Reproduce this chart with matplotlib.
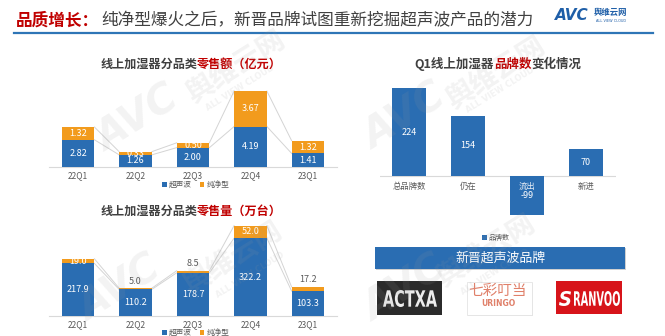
import matplotlib
matplotlib.use('Agg')
import numpy as np
import matplotlib.pyplot as plt
from matplotlib.patches import Rectangle, PathPatch
from matplotlib.textpath import TextPath
from matplotlib.font_manager import FontProperties
from matplotlib.transforms import Affine2D

plt.rcParams['font.family'] = ['Noto Sans CJK SC', 'DejaVu Sans']

# data
quarters = ['22Q1', '22Q2', '22Q3', '22Q4', '23Q1']
sales_ultra = [2.82, 1.26, 2.00, 4.19, 1.41]   # 亿元
sales_pure = [1.32, 0.33, 0.50, 3.67, 1.32]
vol_ultra = [217.9, 110.2, 178.7, 322.2, 103.3]  # 万台
vol_pure = [19.0, 5.0, 8.5, 52.0, 17.2]
brand_cats = ['总品牌数', '仍在', '流出', '新进']
brand_vals = [224, 154, -99, 70]
series_names = ['超声波', '纯净型']

W, H = 665, 336
BLUE = '#2a6db2'
ORANGE = '#f29b1d'
RED = '#c00000'
DARK = '#404040'
GREY = '#595959'

fig = plt.figure(figsize=(W / 100, H / 100), dpi=100)
fig.patch.set_facecolor('white')


def fx(x):
    return x / W


def fy(y):
    return 1 - y / H


def add_ax(x0, x1, ytop, ybot):
    return fig.add_axes([fx(x0), fy(ybot), (x1 - x0) / W, (ybot - ytop) / H])


def rich(x, y, parts, size, weight='normal', ha='center'):
    r = fig.canvas.get_renderer()
    ts = [fig.text(0, 0, s, fontsize=size, color=c, weight=weight, va='center') for s, c in parts]
    ws = [t.get_window_extent(r).width for t in ts]
    x0 = x - sum(ws) / 2 if ha == 'center' else x
    for t, w in zip(ts, ws):
        t.set_position((fx(x0), fy(y)))
        x0 += w


def fit_text(s, x0, x1, ytop, ybot, color, family='DejaVu Sans', weight='bold', style='normal'):
    tp = TextPath((0, 0), s, size=10, prop=FontProperties(family=family, weight=weight, style=style))
    bb = tp.get_extents()
    sx = (x1 - x0) / bb.width
    sy = (ybot - ytop) / bb.height
    tr = (Affine2D().translate(-bb.x0, -bb.y0).scale(sx, sy)
          .translate(x0, H - ybot).scale(1 / W, 1 / H) + fig.transFigure)
    fig.add_artist(PathPatch(tp, transform=tr, facecolor=color, edgecolor='none', zorder=6))


def box(x0, x1, ytop, ybot, fc, ec='none', z=4):
    fig.add_artist(Rectangle((fx(x0), fy(ybot)), (x1 - x0) / W, (ybot - ytop) / H,
                             transform=fig.transFigure, facecolor=fc, edgecolor=ec, lw=0.6, zorder=z))


# header
rich(16, 21, [('品质增长：', RED)], 12, weight='bold', ha='left')
rich(101, 21, [('纯净型爆火之后，新晋品牌试图重新挖掘超声波产品的潜力', DARK)], 12, ha='left')
fig.add_artist(plt.Line2D([fx(14), fx(653)], [fy(33), fy(33)], color='#2e75b6', lw=1.6,
                          transform=fig.transFigure))
fig.text(fx(572), fy(16), 'AVC', fontsize=11, color='#1f5fa8', weight='bold', style='italic',
         family='DejaVu Sans', ha='center', va='center')
fig.text(fx(611), fy(13), '舆维云网', fontsize=6, color='#1f5fa8', weight='bold',
         ha='center', va='center')
fig.text(fx(611), fy(21), 'ALL VIEW CLOUD', fontsize=2.5, color='#1f5fa8',
         family='DejaVu Sans', ha='center', va='center')


def stacked(ax, ultra, pure, top, fmt, inside_min):
    x = np.arange(len(quarters))
    w = 0.57
    b1 = ax.bar(x, ultra, w, color=BLUE, zorder=3)
    b2 = ax.bar(x, pure, w, bottom=ultra, color=ORANGE, zorder=3)
    tot = np.add(ultra, pure)
    for i in range(len(x) - 1):
        ax.plot([i + w / 2, i + 1 - w / 2], [ultra[i], ultra[i + 1]], color='#d4d4d4', lw=0.7, zorder=1)
        ax.plot([i + w / 2, i + 1 - w / 2], [tot[i], tot[i + 1]], color='#d4d4d4', lw=0.7, zorder=1)
    for i in range(len(x)):
        ax.text(i, ultra[i] / 2, fmt % ultra[i], ha='center', va='center', color='white',
                fontsize=6.5, zorder=5)
        if pure[i] >= inside_min:
            ax.text(i, ultra[i] + pure[i] / 2, fmt % pure[i], ha='center', va='center',
                    color='white', fontsize=6.5, zorder=5)
        else:
            ax.annotate(fmt % pure[i], (i, tot[i]), xytext=(0, 5), textcoords='offset points',
                        ha='center', va='center', color=GREY, fontsize=6.5)
    ax.set_xlim(-0.5, len(x) - 0.5)
    ax.set_ylim(0, top)
    for s in ['top', 'right', 'left']:
        ax.spines[s].set_visible(False)
    ax.spines['bottom'].set_color('#d9d9d9')
    ax.spines['bottom'].set_linewidth(0.8)
    ax.set_yticks([])
    ax.set_xticks(x, quarters)
    ax.tick_params(length=0, pad=3, labelsize=6, labelcolor=GREY)
    ax.set_facecolor('none')
    return b1, b2


# top-left: retail value
ax1 = add_ax(49.25, 336.75, 85, 167)
h1 = stacked(ax1, sales_ultra, sales_pure, 82 / 9.66, '%.2f', 0)
rich(191, 64, [('线上加湿器分品类', DARK), ('零售额（亿元）', RED)], 8.7, weight='bold')
fig.legend(h1, series_names, loc='center', bbox_to_anchor=(fx(196), fy(185)), ncol=2,
           frameon=False, fontsize=5.5, handlelength=0.6, handleheight=0.6,
           handletextpad=0.3, columnspacing=1.0, labelcolor=GREY)

# bottom-left: retail volume
ax2 = add_ax(49.25, 336.75, 220, 316)
h2 = stacked(ax2, vol_ultra, vol_pure, 96 / 0.2415, '%.1f', 18)
rich(191, 211, [('线上加湿器分品类', DARK), ('零售量（万台）', RED)], 8.7, weight='bold')
fig.legend(h2, series_names, loc='center', bbox_to_anchor=(fx(196), fy(333)), ncol=2,
           frameon=False, fontsize=5.5, handlelength=0.6, handleheight=0.6,
           handletextpad=0.3, columnspacing=1.0, labelcolor=GREY, borderpad=0.1)

# right: brand count
ax3 = add_ax(379.5, 615.5, 80, 222)
xb = np.arange(len(brand_cats))
hb = ax3.bar(xb, brand_vals, 0.56, color=BLUE, zorder=3)
ax3.axhline(0, color='#d9d9d9', lw=0.8, zorder=1)
for i, v in enumerate(brand_vals):
    ax3.text(i, v / 2, str(v), ha='center', va='center', color='white', fontsize=6.5, zorder=5)
    ax3.annotate(brand_cats[i], (i, 0), xytext=(0, -7.2), textcoords='offset points',
                 ha='center', va='center', fontsize=6,
                 color='#e8eef6' if v < 0 else GREY, zorder=5)
ax3.set_xlim(-0.5, len(brand_cats) - 0.5)
ax3.set_ylim(-46 / 0.391, 96 / 0.391)
ax3.axis('off')
rich(498, 64, [('Q1线上加湿器', DARK), ('品牌数', RED), ('变化情况', DARK)], 9, weight='bold')
fig.legend([hb], ['品牌数'], loc='center', bbox_to_anchor=(fx(496), fy(238)), frameon=False,
           fontsize=5, handlelength=0.6, handleheight=0.6, handletextpad=0.3, labelcolor=GREY)

# new brand banner and logos
box(376, 626, 248, 270, '#d0d0d0', z=3)
box(375, 625, 247, 269, BLUE)
fig.text(fx(500), fy(258), '新晋超声波品牌', fontsize=9.3, color='white', ha='center',
         va='center', zorder=6)

box(377, 442, 281, 315, '#2b2b2b')
fit_text('ACTXA', 383, 437, 290, 307, '#ececec')

box(468, 533, 283, 316, '#dcdcdc', z=3)
box(467, 532, 282, 315, 'white', ec='#e4e4e4')
fig.text(fx(498), fy(291), '七彩叮当', fontsize=10.5, color='#e0806a', ha='center',
         va='center', zorder=6)
fig.text(fx(498), fy(304), 'URINGO', fontsize=5.5, color='#e0806a', weight='bold',
         family='DejaVu Sans', ha='center', va='center', zorder=6)

box(556, 622, 281, 314, '#d7141a')
fit_text('S', 559, 571, 291, 306, 'white', style='italic')
fit_text('RANVOO', 574, 620, 291, 306, 'white')

# watermarks
WM = dict(color='#9a9a9a', alpha=0.12, rotation=32, rotation_mode='anchor',
          ha='center', va='center', zorder=8)
for (ax_, ay_), (cx_, cy_), (lx_, ly_) in [((138, 120), (235, 66), (240, 88)),
                                           ((120, 290), (232, 257), (250, 275)),
                                           ((405, 118), (495, 72), (500, 90)),
                                           ((405, 290), (485, 250), (495, 272))]:
    fig.text(fx(ax_), fy(ay_), 'AVC', fontsize=29, weight='bold', style='italic',
             family='DejaVu Sans', **WM)
    fig.text(fx(cx_), fy(cy_), '舆维云网', fontsize=20, weight='bold', **WM)
    fig.text(fx(lx_), fy(ly_), 'ALL VIEW CLOUD', fontsize=6, weight='bold',
             family='DejaVu Sans', **WM)

fig.savefig('out.png', dpi=100)
